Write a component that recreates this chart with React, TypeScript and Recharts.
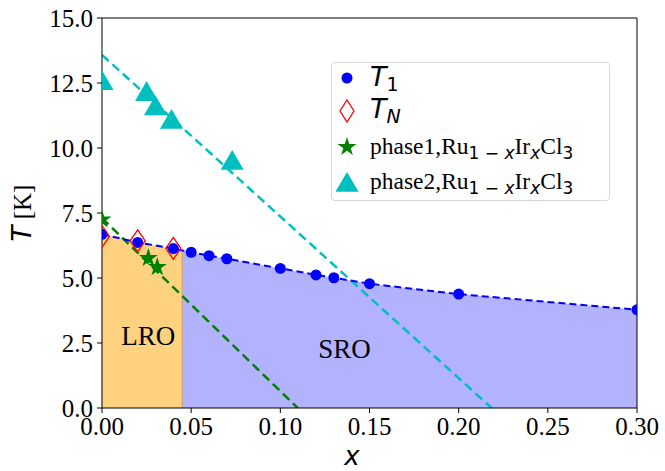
import {
  ComposedChart,
  Scatter,
  Line,
  Area,
  XAxis,
  YAxis,
  ReferenceLine,
  Label,
} from "recharts";

// T1 (blue circles, dashed)
const t1X = [0, 0.02, 0.04, 0.05, 0.06, 0.07, 0.1, 0.12, 0.13, 0.15, 0.2, 0.3];
const t1Y = [6.68, 6.37, 6.13, 5.99, 5.86, 5.74, 5.37, 5.12, 5.01, 4.78, 4.38, 3.78];

// TN (red open diamonds)
const tnX = [0, 0.02, 0.04];
const tnY = [6.6, 6.43, 6.14];

// phase1 (green stars) + fit
const p1X = [0, 0.026, 0.031];
const p1Y = [7.25, 5.77, 5.42];
const p1FitX = [0, 0.1097];
const p1FitY = [7.3, 0];

// phase2 (cyan triangles) + fit
const p2X = [0, 0.025, 0.03, 0.039, 0.073];
const p2Y = [12.57, 12.15, 11.6, 11.08, 9.5];
const p2FitX = [0, 0.2185];
const p2FitY = [13.58, 0];

// LRO / SRO boundary
const lroEdge = 0.045;
const lroEdgeT = 6.06;

const xTicks = [0, 0.05, 0.1, 0.15, 0.2, 0.25, 0.3];
const yTicks = [0, 2.5, 5, 7.5, 10, 12.5, 15];

const zip = (xs: number[], ys: number[]) => xs.map((x, i) => ({ x, y: ys[i] }));

const t1 = zip(t1X, t1Y);
const tn = zip(tnX, tnY);
const p1 = zip(p1X, p1Y);
const p2 = zip(p2X, p2Y);
const p1Fit = zip(p1FitX, p1FitY);
const p2Fit = zip(p2FitX, p2FitY);
const lroArea = [...t1.filter((d) => d.x < lroEdge), { x: lroEdge, y: lroEdgeT }];
const sroArea = [{ x: lroEdge, y: lroEdgeT }, ...t1.filter((d) => d.x > lroEdge)];

const serif = "'Liberation Serif', 'Times New Roman', serif";
const sans = "'DejaVu Sans', sans-serif";

const Circle = (p: any) => <circle cx={p.cx} cy={p.cy} r={5.5} fill="#0000ff" />;
const Diamond = (p: any) => (
  <polygon
    points={`${p.cx},${p.cy - 11} ${p.cx + 7.5},${p.cy} ${p.cx},${p.cy + 11} ${p.cx - 7.5},${p.cy}`}
    fill="none"
    stroke="#ff0000"
    strokeWidth={1.3}
  />
);
const starPts = (cx: number, cy: number, R: number) => {
  const r = R * 0.382;
  const pts: string[] = [];
  for (let i = 0; i < 10; i++) {
    const a = -Math.PI / 2 + (i * Math.PI) / 5;
    const rr = i % 2 === 0 ? R : r;
    pts.push(`${cx + rr * Math.cos(a)},${cy + rr * Math.sin(a)}`);
  }
  return pts.join(" ");
};
const Star = (p: any) => <polygon points={starPts(p.cx, p.cy, 10)} fill="#008000" />;
const triPts = (cx: number, cy: number, s: number) =>
  `${cx},${cy - s} ${cx + s * 1.05},${cy + s * 0.8} ${cx - s * 1.05},${cy + s * 0.8}`;
const Tri = (p: any) => <polygon points={triPts(p.cx, p.cy, 11)} fill="#00bfbf" />;

const Sub = ({ children, size = 17 }: any) => (
  <span style={{ fontFamily: sans, fontSize: size, position: "relative", top: 5 }}>{children}</span>
);

const LegendBox = () => {
  const row = { display: "flex", alignItems: "center", height: 33 } as const;
  const icon = { width: 30, display: "flex", justifyContent: "center", marginRight: 8 } as const;
  const phase = (n: number) => (
    <span style={{ fontFamily: serif, fontSize: 23.5, whiteSpace: "nowrap" }}>
      phase{n},Ru<Sub>1 − <i>x</i></Sub>Ir<Sub><i>x</i></Sub>Cl<Sub>3</Sub>
    </span>
  );
  return (
    <div
      style={{
        position: "absolute",
        left: 331,
        top: 62,
        border: "1px solid #d6d6d6",
        borderRadius: 4,
        padding: "0px 4px 2px 0px",
        background: "rgba(255,255,255,0.8)",
        width: 273,
        lineHeight: 1,
      }}
    >
      <div style={{ ...row, height: 30 }}>
        <div style={icon}>
          <svg width={16} height={14}><circle cx={8} cy={7} r={5.5} fill="#0000ff" /></svg>
        </div>
        <span style={{ fontFamily: sans, fontSize: 27, fontStyle: "italic", position: "relative", top: -2 }}>
          T<Sub size={19}><span style={{ fontStyle: "normal" }}>1</span></Sub>
        </span>
      </div>
      <div style={{ ...row, height: 36 }}>
        <div style={icon}>
          <svg width={18} height={26}><polygon points="9,2 16,13 9,24 2,13" fill="none" stroke="#ff0000" strokeWidth={1.3} /></svg>
        </div>
        <span style={{ fontFamily: sans, fontSize: 27, fontStyle: "italic", position: "relative", top: -3 }}>
          T<Sub size={19}>N</Sub>
        </span>
      </div>
      <div style={{ ...row, height: 36 }}>
        <div style={icon}>
          <svg width={22} height={22}><polygon points={starPts(11, 11, 10)} fill="#008000" /></svg>
        </div>
        {phase(1)}
      </div>
      <div style={row}>
        <div style={icon}>
          <svg width={26} height={24}><polygon points={triPts(13, 13, 11)} fill="#00bfbf" /></svg>
        </div>
        {phase(2)}
      </div>
    </div>
  );
};

export default function App() {
  const tick = { fontFamily: serif, fontSize: 25, fill: "#000" };
  return (
    <div style={{ position: "absolute", left: 0, top: 0, width: 665, height: 471, background: "#fff" }}>
      <ComposedChart width={665} height={471} margin={{ top: 18, right: 28, bottom: 0, left: 0 }}>
        <XAxis
          dataKey="x"
          type="number"
          domain={[0, 0.3]}
          ticks={xTicks}
          allowDataOverflow
          tickFormatter={(v: number) => v.toFixed(2)}
          tick={tick}
          tickSize={5}
          tickMargin={4}
          height={63}
          axisLine={{ stroke: "#000" }}
          tickLine={{ stroke: "#000" }}
        >
          <Label
            content={() => (
              <text x={352} y={465} textAnchor="middle" fontFamily={sans} fontSize={26} fontStyle="italic" fill="#000">
                x
              </text>
            )}
          />
        </XAxis>
        <YAxis
          dataKey="y"
          type="number"
          domain={[0, 15]}
          ticks={yTicks}
          allowDataOverflow
          tickFormatter={(v: number) => v.toFixed(1)}
          tick={tick}
          tickSize={5}
          tickMargin={4}
          width={102}
          axisLine={{ stroke: "#000" }}
          tickLine={{ stroke: "#000" }}
        >
          <Label
            content={() => (
              <text x={0} y={0} transform="translate(31,213) rotate(-90)" textAnchor="middle" fill="#000">
                <tspan fontFamily={sans} fontStyle="italic" fontSize={26}>T</tspan>
                <tspan fontFamily={serif} fontSize={25}> [K]</tspan>
              </text>
            )}
          />
        </YAxis>

        <Area
          data={lroArea}
          dataKey="y"
          type="linear"
          fill="#ffa500"
          fillOpacity={0.5}
          stroke="none"
          isAnimationActive={false}
        />
        <Area
          data={sroArea}
          dataKey="y"
          type="linear"
          fill="#0000ff"
          fillOpacity={0.3}
          stroke="none"
          isAnimationActive={false}
        />
        <ReferenceLine
          segment={[{ x: lroEdge, y: 0 }, { x: lroEdge, y: lroEdgeT }]}
          stroke="#c9a890"
          strokeWidth={1.5}
        />

        <Line
          data={p1Fit}
          dataKey="y"
          type="linear"
          stroke="#008000"
          strokeWidth={2.5}
          strokeDasharray="9 5"
          dot={false}
          isAnimationActive={false}
        />
        <Line
          data={p2Fit}
          dataKey="y"
          type="linear"
          stroke="#00bfbf"
          strokeWidth={2.5}
          strokeDasharray="9 5"
          dot={false}
          isAnimationActive={false}
        />
        <Line
          data={t1}
          dataKey="y"
          type="linear"
          stroke="#0000ff"
          strokeWidth={2}
          strokeDasharray="7 4"
          dot={<Circle />}
          isAnimationActive={false}
        />
        <Scatter data={tn} dataKey="y" shape={<Diamond />} isAnimationActive={false} />
        <Scatter data={p1} dataKey="y" shape={<Star />} isAnimationActive={false} />
        <Scatter data={p2} dataKey="y" shape={<Tri />} isAnimationActive={false} />

        <ReferenceLine y={15} stroke="#000" />
        <ReferenceLine x={0.3} stroke="#000" />
        <ReferenceLine
          x={0.026}
          stroke="none"
          label={{ value: "LRO", position: "insideBottom", offset: 63, fontFamily: serif, fontSize: 27, fill: "#000" } as any}
        />
        <ReferenceLine
          x={0.136}
          stroke="none"
          label={{ value: "SRO", position: "insideBottom", offset: 50, fontFamily: serif, fontSize: 27, fill: "#000" } as any}
        />
      </ComposedChart>
      <LegendBox />
    </div>
  );
}
